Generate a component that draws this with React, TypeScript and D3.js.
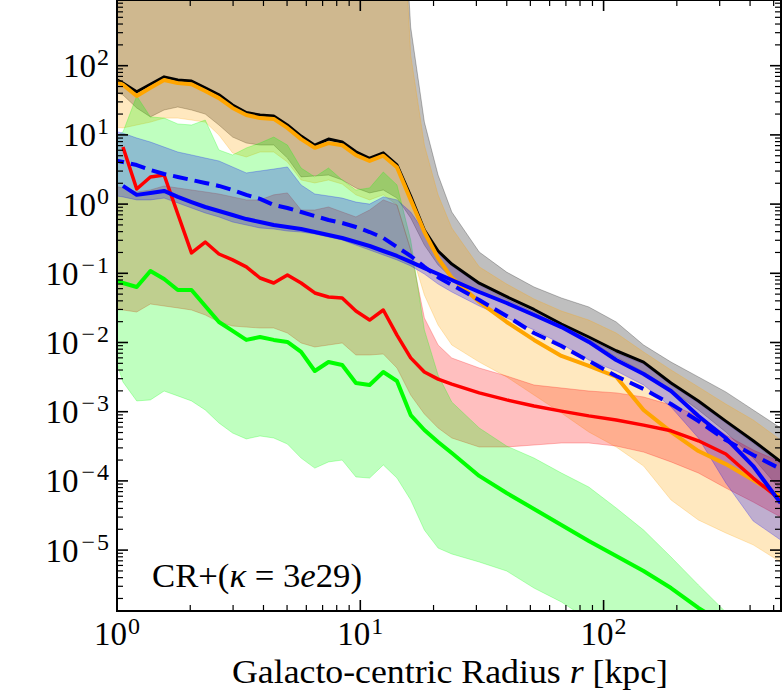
import React from 'react';
import * as d3 from 'd3';

// Galacto-centric radius bins [kpc]
const radius = [0.93, 1.058, 1.205, 1.372, 1.562, 1.778, 2.024, 2.305, 2.624, 2.987, 3.4, 3.871, 4.407, 5.017, 5.711, 6.501, 7.401, 8.425, 9.593, 10.92, 12.43, 14.15, 16.11, 18.34, 20.88, 23.77, 30.82, 39.94, 51.76, 67.08, 86.94, 112.7, 146.0, 189.3, 245.3, 317.9, 412.0, 534.0];

// central curves
const blackLine = [71, 56, 42, 54, 69, 62, 60, 48, 38, 27, 21, 19.4, 18.8, 13.9, 9.6, 7.1, 8.7, 7.9, 5.7, 4.6, 5.5, 3.7, 1.31, 0.42, 0.21, 0.136, 0.072, 0.046, 0.03, 0.0185, 0.012, 0.0076, 0.0052, 0.0026, 0.00143, 0.00073, 0.00038, 0.00019];
const orangeLine = [66, 53, 36.5, 48, 62, 56, 54, 43, 34, 24.5, 19.4, 17.5, 17, 12.6, 8.7, 6.5, 7.6, 7.1, 5.1, 4.2, 5.0, 3.4, 1.15, 0.395, 0.166, 0.086, 0.0385, 0.0198, 0.0109, 0.0064, 0.0046, 0.0032, 0.00106, 0.00051, 0.00027, 0.000175, 0.000103, 0.0000585];
const redLine = [null, 6.7, 1.65, 2.46, 2.63, 0.72, 0.197, 0.283, 0.19, 0.156, 0.124, 0.0855, 0.0724, 0.0944, 0.0724, 0.052, 0.0455, 0.044, 0.0285, 0.0211, 0.0295, 0.0128, 0.006, 0.00375, 0.00296, 0.00251, 0.00187, 0.00148, 0.00121, 0.00102, 0.00087, 0.00076, 0.00064, 0.00053, 0.00038, 0.000245, 0.00011, 0.000053];
const greenLine = [0.0855, 0.0724, 0.0634, 0.108, 0.0828, 0.0574, 0.0574, 0.0337, 0.0198, 0.0147, 0.0109, 0.012, 0.0109, 0.0102, 0.0073, 0.00387, 0.00522, 0.00473, 0.0026, 0.00243, 0.00375, 0.00278, 0.000895, 0.000544, 0.000365, 0.000253, 0.000118, 0.0000668, 0.0000393, 0.0000231, 0.0000135, 0.0000082, 0.000005, 0.00000283, 0.00000146, 8.3e-7, 4.7e-7, 2.6e-7];
const blueLine = [null, 1.83, 1.36, 1.45, 1.55, 1.27, 1.07, 0.908, 0.794, 0.695, 0.608, 0.551, 0.499, 0.467, 0.437, 0.395, 0.357, 0.324, 0.283, 0.248, 0.21, 0.178, 0.146, 0.119, 0.0977, 0.08, 0.0537, 0.0372, 0.025, 0.0167, 0.0102, 0.00558, 0.00351, 0.00199, 0.000867, 0.000417, 0.000164, 0.0000479];
const blueDashed = [4.48, 4.06, 3.67, 3.11, 2.72, 2.47, 2.23, 2.02, 1.83, 1.6, 1.36, 1.19, 0.971, 0.879, 0.769, 0.673, 0.589, 0.533, 0.467, 0.395, 0.324, 0.24, 0.178, 0.124, 0.088, 0.068, 0.0411, 0.0242, 0.0137, 0.0089, 0.00541, 0.00328, 0.00213, 0.00129, 0.000734, 0.00039, 0.000237, 0.000149];

// percentile bands (upper / lower)
const blackHi = [1e6, 1e6, 1e6, 1e6, 1e6, 1e6, 1e6, 1e6, 1e6, 1e6, 1e6, 1e6, 1e6, 1e6, 1e6, 1e6, 1e6, 1e6, 1e6, 1e6, 1e6, 1e6, 362, 15.3, 2.63, 0.769, 0.203, 0.104, 0.0634, 0.044, 0.0326, 0.0198, 0.0092, 0.00522, 0.00318, 0.00193, 0.00106, 0.000582];
const blackLo = [44.6, 37.8, 24.5, 18.2, 22.9, 25.3, 22.9, 20.0, 13.9, 9.31, 7.63, 7.14, 7.14, 4.63, 2.47, 2.55, 2.63, 2.23, 1.71, 1.45, 1.6, 1.22, 0.63, 0.256, 0.132, 0.0855, 0.0537, 0.0372, 0.0258, 0.0173, 0.0109, 0.00617, 0.00375, 0.00206, 0.00106, 0.000509, 0.000214, 0.0000738];
const orangeHi = [1e6, 1e6, 1e6, 1e6, 1e6, 1e6, 1e6, 1e6, 1e6, 1e6, 1e6, 1e6, 1e6, 1e6, 1e6, 1e6, 1e6, 1e6, 1e6, 1e6, 1e6, 1e6, 143, 7.14, 1.36, 0.452, 0.124, 0.07, 0.0425, 0.0285, 0.0211, 0.0137, 0.00729, 0.00401, 0.00228, 0.00129, 0.000759, 0.00039];
const orangeLo = [13.0, 12.6, 13.9, 15.3, 17.5, 17.5, 16.4, 15.3, 9.96, 5.48, 4.8, 5.66, 5.66, 4.06, 2.23, 2.02, 2.23, 1.95, 1.36, 1.15, 1.36, 0.971, 0.217, 0.0486, 0.0179, 0.0092, 0.00522, 0.00318, 0.00174, 0.000957, 0.000509, 0.000309, 0.000164, 0.000053, 0.0000272, 0.0000177, 0.0000119, 0.00000673];
const redHi = [1.89, 1.71, 1.5, 1.6, 1.83, 1.71, 1.6, 1.5, 1.4, 1.27, 1.15, 1.15, 1.36, 1.45, 0.822, 0.822, 0.908, 0.769, 0.652, 0.822, 1.15, 0.971, 0.217, 0.0226, 0.0092, 0.00597, 0.00428, 0.00328, 0.00243, 0.0022, 0.00199, 0.00187, 0.00163, 0.00125, 0.000867, 0.000461, 0.000279, 0.000188];
const redLo = [0.0348, 0.0295, 0.0276, 0.036, 0.0337, 0.0316, 0.0295, 0.025, 0.0198, 0.0173, 0.0167, 0.0162, 0.0162, 0.0137, 0.00984, 0.00861, 0.0092, 0.00984, 0.0066, 0.0066, 0.00682, 0.00428, 0.00174, 0.000927, 0.000582, 0.000417, 0.000309, 0.000309, 0.00033, 0.000353, 0.000353, 0.000319, 0.000261, 0.000188, 0.00013, 0.0000789, 0.0000495, 0.0000301];
const greenHi = [8.43, 11.0, 36.5, 18.2, 17.5, 14.4, 13.9, 16.4, 6.05, 5.13, 6.47, 7.63, 9.31, 7.14, 3.32, 2.47, 3.32, 2.23, 1.6, 1.71, 2.91, 1.89, 0.303, 0.0152, 0.00339, 0.00138, 0.000582, 0.000319, 0.000214, 0.00013, 0.0000815, 0.0000406, 0.0000195, 0.00000794, 0.00000313, 0.00000127, 5.0e-7, 2.0e-7];
const greenLo = [0.0109, 0.00269, 0.00143, 0.00148, 0.00199, 0.00169, 0.00143, 0.00106, 0.000687, 0.000492, 0.000404, 0.000446, 0.000417, 0.000341, 0.000214, 0.000153, 0.000188, 0.0002, 0.000114, 0.00011, 0.00017, 0.00011, 0.000053, 0.0000195, 0.0000107, 0.00000879, 0.00000673, 0.00000499, 0.00000283, 0.00000178, 9.77e-7, 5.93e-7, 3.6e-7, 2.18e-7, 1.33e-7, 8.05e-8, 4.89e-8, 3.0e-8];
const blueHi = [11.8, 10.6, 9.02, 7.89, 6.68, 5.66, 5.13, 4.63, 4.2, 3.44, 2.82, 3.01, 3.21, 3.44, 1.89, 1.4, 1.31, 1.22, 1.07, 1.0, 1.27, 1.15, 0.769, 0.395, 0.196, 0.128, 0.0678, 0.0425, 0.0276, 0.0173, 0.0112, 0.00705, 0.00489, 0.00243, 0.00134, 0.000687, 0.000353, 0.000175];
const blueLo = [1.36, 1.27, 1.15, 1.15, 1.22, 1.04, 0.879, 0.745, 0.652, 0.551, 0.499, 0.452, 0.437, 0.408, 0.395, 0.37, 0.335, 0.303, 0.256, 0.217, 0.184, 0.156, 0.128, 0.0977, 0.07, 0.0537, 0.0337, 0.0226, 0.0152, 0.00951, 0.00558, 0.00387, 0.00243, 0.00117, 0.000417, 0.0000933, 0.0000263, 0.000014];

// axis ticks
const xMajor = [1, 10, 100];
const xMajorExp = [0, 1, 2];
const yMajorExp = [-5, -4, -3, -2, -1, 0, 1, 2];
const xLabel = 'Galacto-centric Radius ';
const annotation = 'CR+(';

const FONT = '"Liberation Serif", "DejaVu Serif", serif';

export default function App() {
  const L = 117, R = 781, T = 0, B = 611;
  const x = d3.scaleLog().domain([1, 536]).range([L, R]);
  const y = d3.scaleLog().domain([1.318e-6, 890]).range([B, T]);
  const idx = radius.map((_, i) => i);

  const bands = [
    { hi: blackHi, lo: blackLo, color: '#000000' },
    { hi: orangeHi, lo: orangeLo, color: '#ffa500' },
    { hi: redHi, lo: redLo, color: '#ff0000' },
    { hi: greenHi, lo: greenLo, color: '#00ff00' },
    { hi: blueHi, lo: blueLo, color: '#0000ff' },
  ];
  const lines = [
    { v: blackLine, color: '#000000', w: 3, dash: undefined },
    { v: orangeLine, color: '#ffa500', w: 4, dash: undefined },
    { v: redLine, color: '#ff0000', w: 3.5, dash: undefined },
    { v: greenLine, color: '#00ff00', w: 4, dash: undefined },
    { v: blueLine, color: '#0000ff', w: 4, dash: undefined },
    { v: blueDashed, color: '#0000ff', w: 4, dash: '15 7' },
  ];

  const areaFor = (hi: number[], lo: number[]) =>
    d3.area<number>()
      .x((i) => x(radius[i]))
      .y0((i) => y(lo[i]))
      .y1((i) => y(hi[i]))(idx) || '';
  const lineFor = (v: (number | null)[]) =>
    d3.line<number>()
      .defined((i) => v[i] != null)
      .x((i) => x(radius[i]))
      .y((i) => y(v[i] as number))(idx) || '';

  const xMinor: number[] = [];
  for (const d of xMajor) for (let m = 2; m <= 9; m++) { const v = m * d; if (v < 536) xMinor.push(v); }
  const yMinor: number[] = [];
  for (let p = -6; p <= 2; p++) for (let m = 2; m <= 9; m++) { const v = m * Math.pow(10, p); if (v > 1.318e-6 && v < 890) yMinor.push(v); }

  const sup = (p: number, dy: number) =>
    p < 0 ? (
      <>
        <tspan dy={dy} dx={3} fontSize={24}>{'\u2212'}</tspan>
        <tspan dx={2} fontSize={24}>{String(-p)}</tspan>
      </>
    ) : (
      <tspan dy={dy} dx={1} fontSize={24}>{String(p)}</tspan>
    );

  return (
    <svg width={784} height={694} style={{ position: 'absolute', left: 0, top: 0, background: '#fff' }}>
      <defs>
        <clipPath id="plotclip">
          <rect x={L} y={T} width={R - L} height={B - T} />
        </clipPath>
      </defs>
      <rect x={0} y={0} width={784} height={694} fill="#fff" />
      <g clipPath="url(#plotclip)">
        {bands.map((b, i) => (
          <path key={'b' + i} d={areaFor(b.hi, b.lo)} fill={b.color} fillOpacity={0.25}
            stroke={b.color} strokeOpacity={0.25} strokeWidth={1} />
        ))}
        {lines.map((l, i) => (
          <path key={'l' + i} d={lineFor(l.v)} fill="none" stroke={l.color} strokeWidth={l.w}
            strokeDasharray={l.dash} strokeLinejoin="round" />
        ))}
      </g>
      <g stroke="#000">
        {xMajor.map((v) => (
          <g key={'xM' + v}>
            <line x1={x(v)} x2={x(v)} y1={B} y2={B - 11} strokeWidth={1.6} />
            <line x1={x(v)} x2={x(v)} y1={T} y2={T + 11} strokeWidth={1.6} />
          </g>
        ))}
        {xMinor.map((v) => (
          <g key={'xm' + v}>
            <line x1={x(v)} x2={x(v)} y1={B} y2={B - 6} strokeWidth={1.2} />
            <line x1={x(v)} x2={x(v)} y1={T} y2={T + 6} strokeWidth={1.2} />
          </g>
        ))}
        {yMajorExp.map((p) => (
          <g key={'yM' + p}>
            <line x1={L} x2={L + 11} y1={y(Math.pow(10, p))} y2={y(Math.pow(10, p))} strokeWidth={1.6} />
            <line x1={R} x2={R - 11} y1={y(Math.pow(10, p))} y2={y(Math.pow(10, p))} strokeWidth={1.6} />
          </g>
        ))}
        {yMinor.map((v, i) => (
          <g key={'ym' + i}>
            <line x1={L} x2={L + 6} y1={y(v)} y2={y(v)} strokeWidth={1.2} />
            <line x1={R} x2={R - 6} y1={y(v)} y2={y(v)} strokeWidth={1.2} />
          </g>
        ))}
      </g>
      <rect x={L} y={T} width={R - L} height={B - T} fill="none" stroke="#000" strokeWidth={2} />
      <g fontFamily={FONT} fill="#000">
        {yMajorExp.map((p) => (
          <text key={'yl' + p} x={109} y={y(Math.pow(10, p)) + 11.5} textAnchor="end" fontSize={33}>
            10{sup(p, -12)}
          </text>
        ))}
        {xMajor.map((v, i) => (
          <text key={'xl' + v} x={x(v)} y={645} textAnchor="middle" fontSize={33}>
            10{sup(xMajorExp[i], -11)}
          </text>
        ))}
        <text x={232} y={683} fontSize={33} textLength={436} lengthAdjust="spacingAndGlyphs">
          {xLabel}<tspan fontStyle="italic">r</tspan> [kpc]
        </text>
        <text x={152} y={587} fontSize={33} textLength={210} lengthAdjust="spacingAndGlyphs">
          {annotation}<tspan fontStyle="italic">κ</tspan> = 3<tspan fontStyle="italic">e</tspan>29)
        </text>
      </g>
    </svg>
  );
}
